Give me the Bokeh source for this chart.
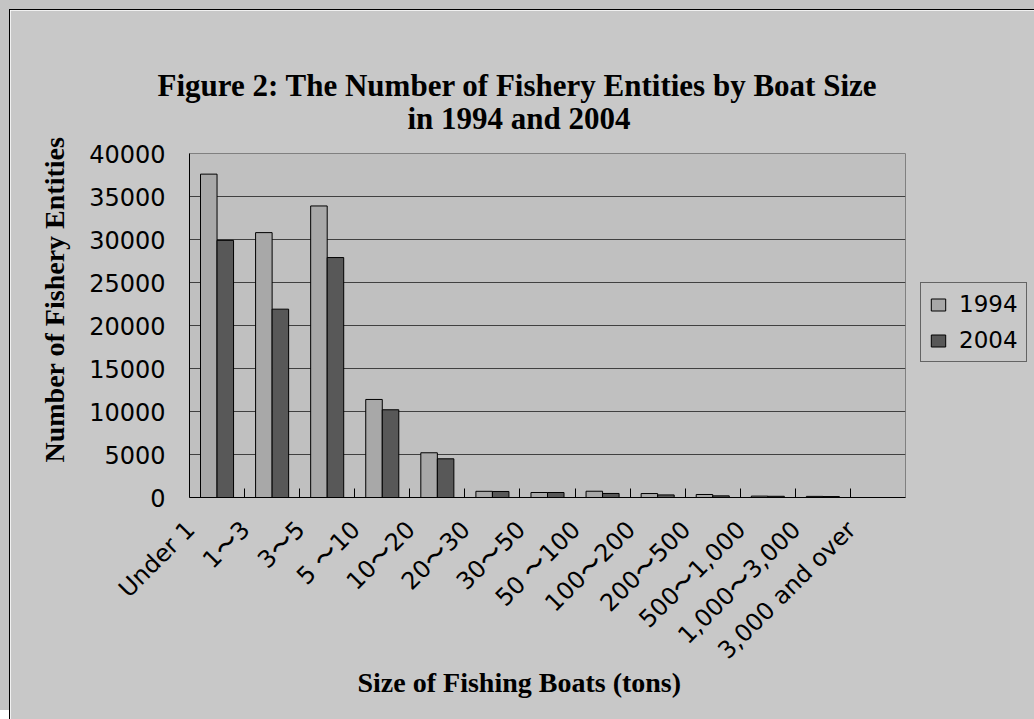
import math
from bokeh.plotting import figure
from bokeh.models import (Range1d, FixedTicker, Legend, LegendItem, Title,
                          NumeralTickFormatter, ColumnDataSource)
from bokeh.embed import file_html
from bokeh.resources import INLINE

# ---- data ----
categories = ["Under 1", "1〜3", "3〜5", "5 〜10", "10〜20", "20〜30", "30〜50",
              "50 〜100", "100〜200", "200〜500", "500〜1,000", "1,000〜3,000",
              "3,000 and over"]
values_1994 = [37600, 30800, 33900, 11400, 5200, 720, 580, 730, 460, 350, 160, 130, 0]
values_2004 = [29900, 21900, 27900, 10200, 4500, 700, 580, 470, 300, 190, 140, 110, 0]
y_ticks = [0, 5000, 10000, 15000, 20000, 25000, 30000, 35000, 40000]
series_names = ["1994", "2004"]
title_lines = ["Figure 2: The Number of Fishery Entities by Boat Size", "in 1994 and 2004"]
x_title = "Size of Fishing Boats (tons)"
y_title = "Number of Fishery Entities"

n = len(categories)
idx = list(range(n))
BW = 0.3
LABEL_SHIFT = 0.48
src = ColumnDataSource(dict(
    x1=[i + 0.5 - BW / 2 for i in idx],
    x2=[i + 0.5 + BW / 2 for i in idx],
    v1=values_1994,
    v2=values_2004,
))

p = figure(frame_width=716, frame_height=344,
           x_range=Range1d(0, n), y_range=Range1d(0, 40000),
           output_backend="svg", toolbar_location=None, title=None,
           min_border_left=179, min_border_right=129,
           min_border_top=143, min_border_bottom=222,
           background_fill_color="#c0c0c0", border_fill_color="#c8c8c8")
p.styles = {"margin-left": "9px", "margin-top": "9px",
            "border-left": "1px solid #000000", "border-top": "1px solid #000000",
            "box-shadow": "-9px -9px 0 0 #c4c4c4"}

r1 = p.vbar(x="x1", top="v1", width=BW, source=src, fill_color="#a8a8a8",
            line_color="#000000", line_width=1)
r2 = p.vbar(x="x2", top="v2", width=BW, source=src, fill_color="#585858",
            line_color="#000000", line_width=1)

p.outline_line_color = "#808080"
p.xgrid.visible = False
p.ygrid.grid_line_color = "#404040"
p.ygrid.ticker = FixedTicker(ticks=y_ticks)

# x axis
xa = p.xaxis[0]
xa.ticker = FixedTicker(ticks=[i + 0.5 - LABEL_SHIFT for i in idx],
                        minor_ticks=list(range(1, n)))
xa.major_label_overrides = {i + 0.5 - LABEL_SHIFT: c for i, c in zip(idx, categories)}
xa.major_label_orientation = math.pi / 4
xa.major_label_text_font = "DejaVu Sans"
xa.major_label_text_font_size = "24px"
xa.major_label_text_color = "#000000"
xa.major_tick_in = 0
xa.major_tick_out = 0
xa.minor_tick_in = 9
xa.minor_tick_out = 0
xa.minor_tick_line_color = "#000000"
xa.axis_line_color = "#000000"
xa.major_label_standoff = 28

# y axis
ya = p.yaxis[0]
ya.ticker = FixedTicker(ticks=y_ticks)
ya.formatter = NumeralTickFormatter(format="0")
ya.major_label_text_font = "DejaVu Sans"
ya.major_label_text_font_size = "24px"
ya.major_label_text_color = "#000000"
ya.major_tick_in = 0
ya.major_tick_out = 0
ya.minor_tick_in = 0
ya.minor_tick_out = 0
ya.axis_line_color = "#000000"
ya.major_label_standoff = 24

serif = "Liberation Serif"
# titles (second line first: closest to the plot)
p.add_layout(Title(text=title_lines[1], align="left", offset=218, standoff=36,
                   text_font=serif, text_font_style="bold", text_font_size="31px",
                   text_color="#000000"), "above")
p.add_layout(Title(text=title_lines[0], align="left", offset=-32, standoff=-44,
                   text_font=serif, text_font_style="bold", text_font_size="31px",
                   text_color="#000000"), "above")
# axis titles
p.add_layout(Title(text=x_title, align="left", offset=168, standoff=-25,
                   text_font=serif, text_font_style="bold", text_font_size="28px",
                   text_color="#000000"), "below")
p.add_layout(Title(text=y_title, align="left", offset=35, standoff=34,
                   text_font=serif, text_font_style="bold", text_font_size="28px",
                   text_color="#000000"), "left")

legend = Legend(items=[LegendItem(label=series_names[0], renderers=[r1]),
                       LegendItem(label=series_names[1], renderers=[r2])],
                location=(15, 135),
                border_line_color="#000000", border_line_width=1,
                background_fill_color="#c8c8c8", background_fill_alpha=1,
                label_text_font="DejaVu Sans", label_text_font_size="23px",
                label_text_color="#000000",
                glyph_width=18, glyph_height=15, label_standoff=12,
                label_height=24, spacing=10, padding=8, margin=0)
p.add_layout(legend, "right")

open("out.html", "w").write(file_html(p, INLINE))
